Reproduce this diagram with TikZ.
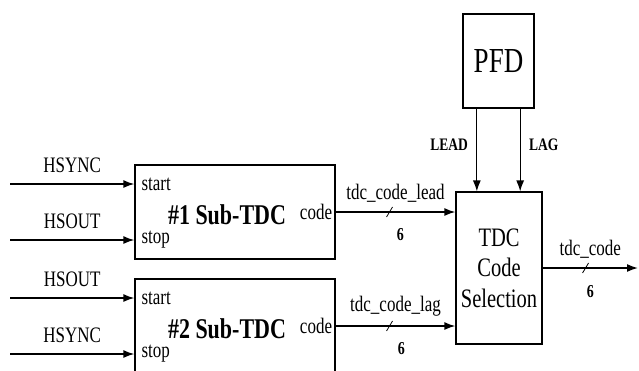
\documentclass[tikz,border=0pt]{standalone}
\usepackage{fontspec}
\setmainfont{Liberation Serif}
\usetikzlibrary{arrows.meta, positioning, calc}
\usetikzlibrary{decorations.markings}

\newcommand{\tall}[1]{\scalebox{1}[1.3]{#1}}

\begin{document}
\begin{tikzpicture}[x=1pt, y=-1pt,
                    wire/.style={line width=1.6pt, -{Latex[length=11pt,width=8pt]}},
                    bus/.style={postaction={decorate},
                        decoration={markings, mark=at position 0.45 with {\draw[-, line width=0.8pt] (-3pt,-5pt) -- (3pt,5pt);}}}]
                    \tikzstyle{box}=[draw, line width=1.2pt, inner sep=0pt]
                    \tikzstyle{lbl}=[font=\fontsize{17}{17}\selectfont]
                    \tikzstyle{num}=[font=\fontsize{14}{14}\selectfont\bfseries]
                    \tikzstyle{port}=[lbl, anchor=west, inner xsep=7pt]

                    \useasboundingbox (0,0) rectangle (639,370);
                    \clip (0,0) rectangle (639,370);

                    % blocks
                    \node[box, minimum width=71pt, minimum height=94pt,
                          font=\fontsize{27}{27}\selectfont] (pfd) at (498.5,61) {\tall{PFD}};
                    \node[box, minimum width=86pt, minimum height=152pt, align=center,
                          font=\fontsize{20.5}{30.5}\selectfont] (sel) at (499,268) {\tall{TDC}\\\tall{Code}\\\tall{Selection}};
                    \node[box, minimum width=200pt, minimum height=94pt] (sub1) at (235,212) {};
                    \node[box, minimum width=200pt, minimum height=94pt] (sub2) at (235,326) {};

                    \node[font=\fontsize{22}{22}\selectfont\bfseries] (title1) at ($(sub1)+(-8,3)$) {\tall{\#1 Sub-TDC}};
                    \node[font=\fontsize{22}{22}\selectfont\bfseries] (title2) at ($(sub2)+(-8,3)$) {\tall{\#2 Sub-TDC}};

                    % ports
                    \node[port] (s1start) at ($(sub1.west)+(0,-28)$) {\tall{start}};
                    \node[port] (s1stop) at ($(sub1.west)+(0,28)$) {\tall{stop}};
                    \node[port] (s2start) at ($(sub2.west)+(0,-28)$) {\tall{start}};
                    \node[port] (s2stop) at ($(sub2.west)+(0,28)$) {\tall{stop}};
                    \node[lbl, anchor=east] (code1) at (sub1.east) {\tall{code}};
                    \node[lbl, anchor=east] (code2) at (sub2.east) {\tall{code}};

                    \coordinate (left) at (10,0);
                    \coordinate (right) at (638,0);

                    % inputs
                    \foreach \port/\txt in {s1start/HSYNC, s1stop/HSOUT, s2start/HSOUT, s2stop/HSYNC}
                        \draw[wire] (\port.west -| left) -- node[lbl, above=7pt] {\tall{\txt}} (\port.west);

                    % buses
                    \draw[wire, bus] (code1.east) -- node[lbl, above=6pt] {\tall{tdc\_code\_lead}}
                        node[num, below=12pt, pos=0.54] {\tall{6}} (code1.east -| sel.west);
                    \draw[wire, bus] (code2.east) -- node[lbl, above=6pt] {\tall{tdc\_code\_lag}}
                        node[num, below=12pt, pos=0.55] {\tall{6}} (code2.east -| sel.west);
                    \draw[wire, bus] (sel.east) -- node[lbl, above=6pt] {\tall{tdc\_code}}
                        node[num, below=13pt, pos=0.5] {\tall{6}} (sel.east -| right);

                    % pfd outputs
                    \coordinate (lead) at ($(pfd.south)!0.6!(pfd.south west)$);
                    \coordinate (lag) at ($(pfd.south)!0.6!(pfd.south east)$);
                    \draw[wire, line width=1.2pt] (lead) -- node[num, font=\fontsize{13.5}{13.5}\selectfont\bfseries,
                        left=5pt, pos=0.44] {\tall{LEAD}} (lead |- sel.north);
                    \draw[wire, line width=1.2pt] (lag) -- node[num, font=\fontsize{13.5}{13.5}\selectfont\bfseries,
                        right=5pt, pos=0.44] {\tall{LAG}} (lag |- sel.north);
                \end{tikzpicture}
\end{document}
